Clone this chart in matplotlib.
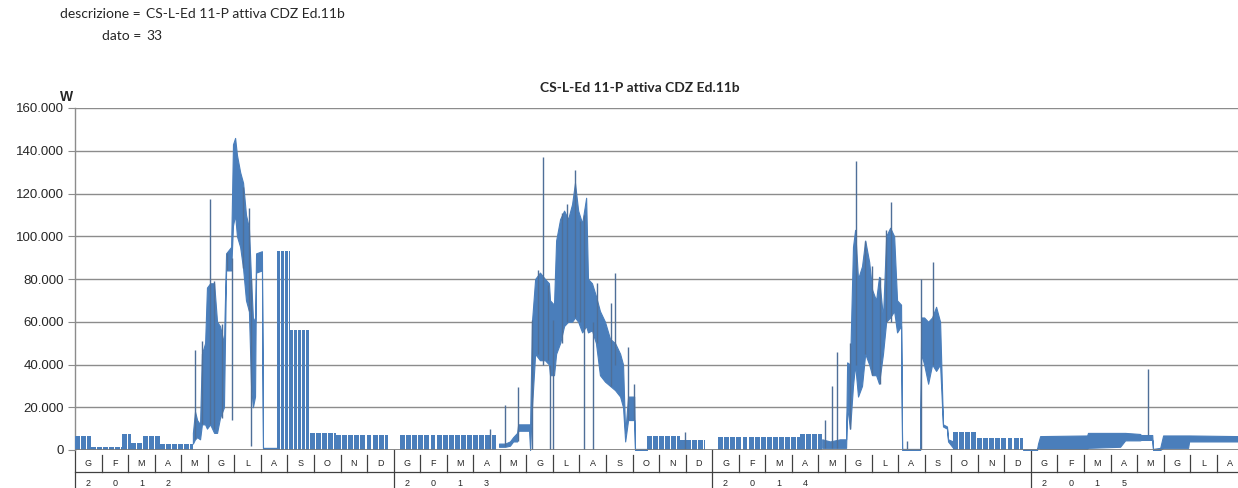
import matplotlib
matplotlib.use("Agg")
import matplotlib.pyplot as plt
import matplotlib.transforms as mtransforms
from matplotlib.ticker import FuncFormatter

# ---------------- text ----------------
TITLE = "CS-L-Ed 11-P attiva CDZ Ed.11b"
DESCRIZIONE = "CS-L-Ed 11-P attiva CDZ Ed.11b"
DATO = "33"
Y_UNIT = "W"

month_letters = ["G", "F", "M", "A", "M", "G", "L", "A", "S", "O", "N", "D"]
years = ["2012", "2013", "2014", "2015"]
x_end_months = 43.8          # axis runs from Jan 2012 (0) to late Aug 2015
y_ticks = [0, 20000, 40000, 60000, 80000, 100000, 120000, 140000, 160000]

# ---------------- data (x in months since Jan 2012, power in kW) ----------------
# periods with working-day blocks (weekend gaps): start, end, level, cycle (days)
block_start = [0.00, 0.60, 1.77, 2.11, 2.56, 3.20, 7.61, 8.10, 8.85, 9.83,
               12.24, 21.54, 22.78, 24.22, 27.31, 33.07, 33.97]
block_end = [0.60, 1.77, 2.11, 2.56, 3.20, 4.44, 8.10, 8.85, 9.83, 11.79,
             15.93, 22.78, 23.73, 27.31, 28.14, 33.97, 35.71]
block_level = [6.5, 1.5, 7.5, 3.5, 6.5, 3.0, 93.0, 56.0, 7.8, 6.8,
               7.0, 6.5, 4.5, 6.0, 7.5, 8.5, 5.5]
block_cycle = [7, 7, 7, 7, 7, 7, 4.5, 4.5, 7, 7,
               7, 7, 7, 7, 7, 7, 7]

# continuous periods: envelope of the hourly readings (low, high)
env_2012_x = [4.44, 4.52, 4.60, 4.71, 4.78, 4.90, 4.97, 5.09, 5.24, 5.35, 5.46,
              5.61, 5.69, 5.88, 5.95, 6.03, 6.10, 6.22, 6.33, 6.44, 6.55, 6.63,
              6.70, 6.78, 6.82, 7.04, 7.08, 7.61]
env_2012_lo = [3, 5, 6, 5, 12, 12, 10, 12, 8, 8, 15,
               20, 84, 84, 105, 110, 100, 95, 85, 70, 65, 30,
               20, 25, 83, 84, 0.5, 0.5]
env_2012_hi = [8, 18, 14, 12, 45, 50, 76, 78, 78, 60, 58,
               50, 92, 95, 143, 146, 138, 130, 125, 110, 104, 80,
               62, 60, 92, 93, 1.0, 1.0]

env_2013_x = [15.97, 16.20, 16.38, 16.50, 16.65, 16.69, 17.10, 17.14, 17.21, 17.33,
              17.51, 17.70, 17.85, 17.89, 18.04, 18.12, 18.27, 18.42, 18.57, 18.72,
              18.83, 18.95, 19.10, 19.25, 19.32, 19.47, 19.62, 19.77, 19.96, 20.15,
              20.34, 20.53, 20.64, 20.72, 20.83, 21.06, 21.09, 21.54]
env_2013_lo = [1.5, 1.5, 2, 4, 4, 9, 9, 0, 20, 45,
               42, 42, 40, 35, 35, 45, 50, 58, 60, 60,
               62, 60, 55, 58, 55, 56, 50, 35, 32, 30,
               28, 25, 20, 4, 14, 14, 0, 0]
env_2013_hi = [3, 3, 4, 6, 8, 12, 12, 12, 60, 80,
               83, 80, 78, 70, 68, 98, 108, 112, 108, 115,
               125, 112, 106, 118, 80, 78, 72, 65, 60, 52,
               50, 45, 40, 8, 25, 25, 0.5, 0.5]

env_2014_x = [28.14, 28.44, 28.81, 29.04, 29.08, 29.19, 29.30, 29.38, 29.49, 29.64,
              29.76, 29.91, 30.02, 30.17, 30.28, 30.43, 30.55, 30.70, 30.85, 30.96,
              31.11, 31.15, 31.83, 31.87, 31.98, 32.13, 32.28, 32.43, 32.58, 32.69,
              32.84, 32.88, 33.07]
env_2014_lo = [1, 1, 1, 1, 20, 10, 30, 40, 25, 30,
               45, 40, 35, 35, 31, 45, 60, 62, 65, 55,
               58, 0, 0, 45, 40, 31, 40, 37, 40, 11,
               10, 4, 1]
env_2014_hi = [5, 4, 5, 5, 41, 40, 95, 103, 80, 86,
               98, 88, 75, 70, 81, 62, 100, 104, 100, 70,
               68, 0.5, 0.5, 62, 62, 60, 62, 67, 60, 12,
               11, 5, 4]

env_2015_x = [35.71, 36.23, 36.27, 36.35, 38.12, 38.15, 39.36, 39.55, 40.11, 40.15,
              40.57, 40.60, 40.87, 40.98, 41.92, 41.96, 43.80]
env_2015_lo = [0, 0, 1, 0.5, 0.5, 1, 1.5, 4.5, 4.5, 4.7,
               4.7, 0, 0, 1, 1, 4, 4]
env_2015_hi = [0.3, 0.3, 3, 6.5, 6.8, 8, 8, 8, 7.5, 7,
               7, 0.5, 1, 6.8, 6.8, 6.8, 6.5]

# isolated readings (single spikes / drops): position, top, bottom
spike_x = [4.52, 4.80, 5.09, 5.24, 5.55, 5.72, 5.93, 6.33, 6.55, 6.63,
           15.63, 16.20, 16.69, 17.21, 17.44, 17.63, 17.82, 17.89, 18.00, 18.34,
           18.53, 18.83, 19.02, 19.17, 19.51, 19.66, 20.19, 20.34, 20.83, 21.06,
           22.98, 28.25, 28.51, 28.70, 29.19, 29.42, 29.76, 30.02, 30.32, 30.55,
           30.74, 31.34, 31.87, 32.32, 40.42]
spike_top = [47, 51, 117.5, 79, 59, 92, 90, 123, 113, 80,
             10, 21, 29.5, 61, 84, 137, 77, 40, 61, 111,
             115, 131, 107, 110, 60, 78, 69, 83, 48, 31,
             8.4, 14, 30, 46, 50, 135, 98, 86, 81, 103,
             116, 4, 80, 88, 38]
spike_bottom = [5, 12, 12, 10, 15, 84, 14, 85, 65, 2,
                0, 2, 4, 0, 45, 40, 42, 0, 0, 50,
                60, 62, 60, 0, 0, 50, 30, 40, 14, 14,
                0, 1, 1, 1, 10, 40, 45, 35, 31, 60,
                60, 0, 0, 40, 7]

# ---------------- figure ----------------
W, H = 1238, 488
fig = plt.figure(figsize=(W / 100, H / 100), dpi=100)
fig.patch.set_facecolor("white")

ax_left, ax_bottom, ax_top = 75, 38, 108
ax = fig.add_axes([ax_left / W, ax_bottom / H, (W - ax_left) / W, (H - ax_top - ax_bottom) / H])

BLUE = "#4a7ebb"
GRID = "#8c8c8c"
TXT = "#262626"
K = 1000.0

# blocks
bx, bw, bh = [], [], []
for s, e, lvl, cyc in zip(block_start, block_end, block_level, block_cycle):
    step = cyc / 30.44
    frac = 0.8 if cyc >= 7 else 0.78
    t = s
    while t < e - 1e-6:
        bx.append(t)
        bw.append(min(step * frac, e - t))
        bh.append(lvl * K)
        t += step
ax.bar(bx, bh, width=bw, align="edge", color=BLUE, linewidth=0, zorder=3)

for xs, lo, hi in [(env_2012_x, env_2012_lo, env_2012_hi),
                   (env_2013_x, env_2013_lo, env_2013_hi),
                   (env_2014_x, env_2014_lo, env_2014_hi),
                   (env_2015_x, env_2015_lo, env_2015_hi)]:
    ax.fill_between(xs, [v * K for v in lo], [v * K for v in hi],
                    color=BLUE, linewidth=0.8, edgecolor=BLUE, zorder=3)

ax.vlines(spike_x, [v * K for v in spike_bottom], [v * K for v in spike_top],
          color="#4f6f98", linewidth=1.0, zorder=3)

ax.set_xlim(0, x_end_months)
ax.set_ylim(0, 160000)
ax.set_yticks(y_ticks)
ax.yaxis.set_major_formatter(FuncFormatter(lambda v, p: f"{int(v):,}".replace(",", ".")))
ax.tick_params(axis="y", length=5, width=0.8, color=GRID, pad=3, labelsize=9.5,
               labelcolor=TXT)
for lab in ax.get_yticklabels():
    lab.set_fontfamily("Liberation Sans")
ax.set_xticks([])
ax.grid(axis="y", color=GRID, linewidth=1.0, zorder=1)
ax.set_axisbelow(True)
for sp in ["top", "right", "bottom"]:
    ax.spines[sp].set_visible(False)
ax.spines["left"].set_color(GRID)
ax.spines["left"].set_linewidth(1.0)
ax.axhline(0, color="#7a7a7a", linewidth=1.2, zorder=4)

# two-level category axis (months / years)
trans = mtransforms.blended_transform_factory(ax.transData, ax.transAxes)
axh = H - ax_top - ax_bottom
def fy(px):
    return -px / axh

n_full = int(x_end_months) + 1
for k in range(0, n_full):
    if k % 12 == 0:
        ax.plot([k, k], [0, fy(40)], transform=trans, color="#404040", lw=0.9, clip_on=False)
    else:
        ax.plot([k, k], [fy(5), fy(22)], transform=trans, color="#404040", lw=0.9, clip_on=False)
    if k + 0.5 <= x_end_months:
        ax.text(k + 0.5, fy(13), month_letters[k % 12], transform=trans, ha="center", va="center",
                fontsize=6.5, color=TXT, family="Liberation Sans")
ax.plot([0, x_end_months], [fy(22), fy(22)], transform=trans, color="#404040", lw=0.9, clip_on=False)
for yi, yr in enumerate(years):
    for j, ch in enumerate(yr):
        ax.text(12 * yi + j + 0.5, fy(33), ch, transform=trans, ha="center", va="center",
                fontsize=6.5, color=TXT, family="Liberation Sans")

# texts
def fxy(px, py):
    return px / W, 1 - py / H

fig.text(*fxy(141, 14), "descrizione =", ha="right", va="center", fontsize=10, family="Lato", color=TXT)
fig.text(*fxy(146, 14), DESCRIZIONE, ha="left", va="center", fontsize=10, family="Lato", color=TXT)
fig.text(*fxy(141, 36), "dato =", ha="right", va="center", fontsize=10, family="Lato", color=TXT)
fig.text(*fxy(146, 36), DATO, ha="left", va="center", fontsize=10, family="Lato", color=TXT)
fig.text(*fxy(640, 88), TITLE, ha="center", va="center", fontsize=10, fontweight="bold",
         family="Lato", color=TXT)
fig.text(*fxy(67, 97), Y_UNIT, ha="center", va="center", fontsize=10, fontweight="bold",
         family="Liberation Sans", color=TXT)

fig.savefig("out.png", dpi=100, facecolor="white")
